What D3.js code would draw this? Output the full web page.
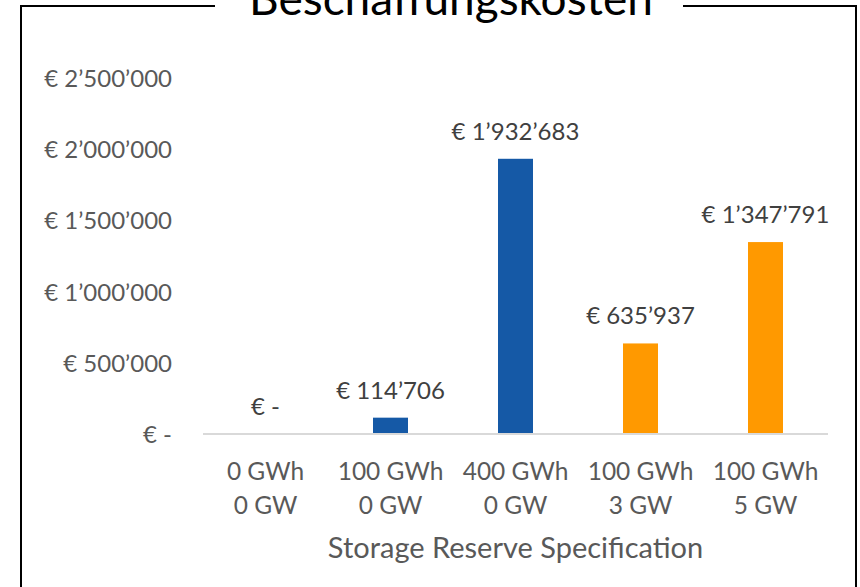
<!DOCTYPE html>
<html>
<head>
<meta charset="utf-8">
<script src="https://cdn.jsdelivr.net/npm/d3@7"></script>
<style>
  body { margin: 0; background: #fff; }
  text { font-family: Lato, "Open Sans", sans-serif; }
</style>
</head>
<body>
<div id="chart"></div>
<script>
// chart data
var categories = ["0 GWh|0 GW", "100 GWh|0 GW", "400 GWh|0 GW", "100 GWh|3 GW", "100 GWh|5 GW"];
var costs = [0, 114706, 1932683, 635937, 1347791];
var barColors = ["#1559a6", "#1559a6", "#1559a6", "#ff9900", "#ff9900"];
var yTicks = [0, 500000, 1000000, 1500000, 2000000, 2500000];
var title = "Beschaffungskosten";
var xTitle = "Storage Reserve Specification";

var width = 860, height = 587;
var margin = { top: 78, right: 32, bottom: 153, left: 203 };

var svg = d3.select("#chart").append("svg")
  .attr("width", width)
  .attr("height", height);

// swiss style thousands separator with euro sign
var fmt = function(v) {
  if (v === 0) return "€ -";
  return "€ " + d3.format(",")(v).replace(/,/g, "\u2019");
};

var x = d3.scaleBand()
  .domain(categories)
  .range([margin.left, width - margin.right])
  .paddingInner(0.72)
  .paddingOuter(0.36);

var y = d3.scaleLinear()
  .domain([0, 2500000])
  .range([height - margin.bottom, margin.top]);

// frame with title gap
var frameTop = 6;
svg.append("path")
  .attr("d", "M215," + frameTop + "H21V" + (height + 2))
  .attr("fill", "none").attr("stroke", "#000").attr("stroke-width", 2);
svg.append("path")
  .attr("d", "M683," + frameTop + "H856V" + (height + 2))
  .attr("fill", "none").attr("stroke", "#000").attr("stroke-width", 2);

svg.append("text")
  .attr("x", 451)
  .attr("y", 15)
  .attr("text-anchor", "middle")
  .attr("font-size", 46)
  .attr("fill", "#000")
  .text(title);

// y axis labels (no axis line)
var yAxis = svg.append("g")
  .attr("transform", "translate(172,0)")
  .call(d3.axisLeft(y).tickValues(yTicks).tickSize(0).tickPadding(0).tickFormat(fmt));
yAxis.select(".domain").remove();
yAxis.selectAll("text")
  .attr("font-size", 24)
  .attr("fill", "#595959")
  .attr("font-family", "Lato, sans-serif")
  .attr("dy", "0.35em");

// baseline
svg.append("line")
  .attr("x1", margin.left).attr("x2", width - margin.right)
  .attr("y1", y(0)).attr("y2", y(0))
  .attr("stroke", "#d9d9d9").attr("stroke-width", 2);

// bars
svg.selectAll(".bar")
  .data(costs)
  .enter()
  .append("rect")
  .attr("class", "bar")
  .attr("x", function(d, i) { return x(categories[i]); })
  .attr("width", x.bandwidth())
  .attr("y", function(d) { return y(d); })
  .attr("height", function(d) { return y(0) - y(d) - 1; })
  .attr("fill", function(d, i) { return barColors[i]; });

// value labels
svg.selectAll(".val")
  .data(costs)
  .enter()
  .append("text")
  .attr("class", "val")
  .attr("x", function(d, i) { return x(categories[i]) + x.bandwidth() / 2; })
  .attr("y", function(d) { return y(d) - 19; })
  .attr("text-anchor", "middle")
  .attr("font-size", 24)
  .attr("fill", "#404040")
  .text(fmt);

// category labels, two lines each
var cat = svg.selectAll(".cat")
  .data(categories)
  .enter()
  .append("text")
  .attr("class", "cat")
  .attr("text-anchor", "middle")
  .attr("font-size", 24.5)
  .attr("fill", "#595959");
cat.selectAll("tspan")
  .data(function(d) { return d.split("|").map(function(s) { return { s: s, c: d }; }); })
  .enter()
  .append("tspan")
  .attr("x", function(d) { return x(d.c) + x.bandwidth() / 2; })
  .attr("y", function(d, i) { return 480 + i * 34; })
  .text(function(d) { return d.s; });

svg.append("text")
  .attr("x", (margin.left + width - margin.right) / 2)
  .attr("y", 558)
  .attr("text-anchor", "middle")
  .attr("font-size", 29)
  .attr("fill", "#595959")
  .text(xTitle);
</script>
</body>
</html>
